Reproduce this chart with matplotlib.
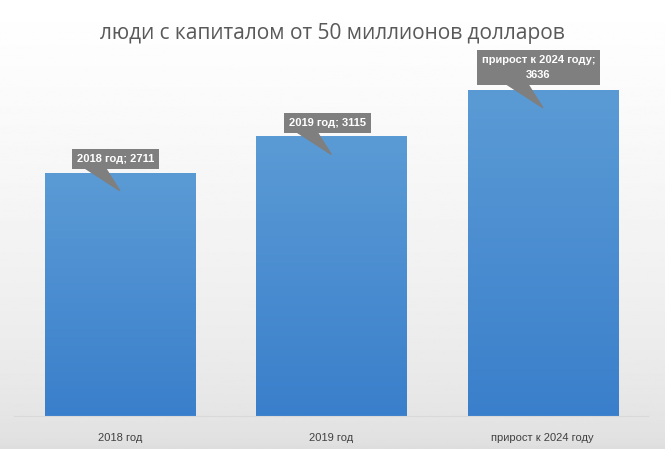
import matplotlib
matplotlib.use("Agg")
import matplotlib.pyplot as plt
import numpy as np
from matplotlib.patches import Polygon

categories = ["2018 год", "2019 год", "прирост к 2024 году"]
values = [2711, 3115, 3636]
labels = ["2018 год; 2711", "2019 год; 3115", "прирост к 2024 году;\n3636"]

fig = plt.figure(figsize=(6.65, 4.49), dpi=100)
bg = fig.add_axes([0, 0, 1, 1], zorder=-10)
grad = np.linspace(1, 0, 256).reshape(-1, 1)
bg.imshow(0.87 + 0.13 * grad ** 0.6, cmap="gray", vmin=0, vmax=1, aspect="auto", extent=[0, 1, 0, 1])
bg.axis("off")

ax = fig.add_axes([14/665, 33/449, 634.5/665, 359/449])
ax.patch.set_alpha(0)
ax.set_xlim(-0.5, 2.5)
ax.set_ylim(0, 4000)
w = 0.71
cmap = matplotlib.colors.LinearSegmentedColormap.from_list("b", ["#3A7FCB", "#5B9BD5"])
for i, v in enumerate(values):
    bar = ax.bar(i, v, width=w, color="none")[0]
    im = ax.imshow(np.linspace(0, 1, 256).reshape(-1, 1), cmap=cmap, origin="lower",
                   extent=[i - w/2, i + w/2, 0, v], aspect="auto", zorder=2)
    im.set_clip_path(bar)
    tri = Polygon([(i - 0.17, v + 60), (i - 0.07, v + 60), (i, v - 200)], closed=True,
                  color="#7F7F7F", zorder=4)
    ax.add_patch(tri)
    ax.text(i - 0.02, v + (155 if i < 2 else 250), labels[i], ha="center", va="center",
            fontsize=8, fontweight="bold", color="white", zorder=5, linespacing=1.6,
            family="Liberation Sans",
            bbox=dict(boxstyle="square,pad=0.45", fc="#7F7F7F", ec="none"))
ax.set_xticks(range(3))
ax.set_xticklabels(categories, fontsize=8, color="#404040", family="Liberation Sans")
ax.set_yticks([])
ax.tick_params(axis="x", length=0, pad=12)
for s in ["top", "right", "left"]:
    ax.spines[s].set_visible(False)
ax.spines["bottom"].set_color("#D9D9D9")
fig.text(0.5, 0.925, "люди с капиталом от 50 миллионов долларов", ha="center", va="center",
         fontsize=15, color="#595959", family="Open Sans")
fig.savefig("out.png", dpi=100)
